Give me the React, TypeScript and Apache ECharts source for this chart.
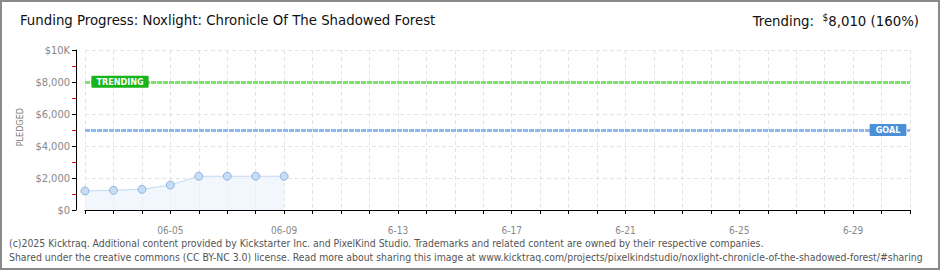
import React, { useEffect, useRef } from "react";
import * as echarts from "echarts";

const categories = [
  "06-02","06-03","06-04","06-05","06-06","06-07","06-08","06-09","06-10","06-11",
  "06-12","6-13","06-14","06-15","06-16","6-17","06-18","06-19","06-20","6-21",
  "06-22","06-23","06-24","6-25","06-26","06-27","06-28","6-29","06-30","07-01",
];
const pledged = [1190, 1230, 1290, 1560, 2110, 2110, 2110, 2110];
const goal = 5000;
const trending = 8010;

const FONT = "'DejaVu Sans Condensed', 'DejaVu Sans', sans-serif";

export default function App() {
  const ref = useRef<HTMLDivElement>(null);
  useEffect(() => {
    document.body.style.margin = "0";
    const chart = echarts.init(ref.current!, undefined, { renderer: "svg" });
    const dash = [5, 1];
    chart.setOption({
      animation: false,
      backgroundColor: "#ffffff",
      grid: { left: 85, right: 30, top: 50, bottom: 60, containLabel: false },
      graphic: [
        { type: "rect", shape: { x: 1, y: 1, width: 938, height: 268 }, style: { fill: "none", stroke: "#8a8a8a", lineWidth: 2 }, silent: true },
        { type: "text", left: 20, top: 12, style: { text: "Funding Progress: Noxlight: Chronicle Of The Shadowed Forest", font: `14.8px ${FONT}`, fill: "#111" } },
        {
          type: "text", right: 21, top: 12,
          style: {
            text: "{a|Trending:  }{s|$}{a|8,010 (160%)}",
            rich: {
              a: { font: `14.8px ${FONT}`, fill: "#111" },
              s: { font: `10px ${FONT}`, fill: "#111", verticalAlign: "top", padding: [0, 0, 6, 0] },
            },
          },
        },
        { type: "text", left: 9, top: 238, style: { text: "(c)2025 Kicktraq. Additional content provided by Kickstarter Inc. and PixelKind Studio. Trademarks and related content are owned by their respective companies.", font: `10.4px ${FONT}`, fill: "#555" } },
        { type: "text", left: 9, top: 252, style: { text: "Shared under the creative commons (CC BY-NC 3.0) license. Read more about sharing this image at www.kicktraq.com/projects/pixelkindstudio/noxlight-chronicle-of-the-shadowed-forest/#sharing", font: `10.4px ${FONT}`, fill: "#555" } },
        { type: "text", left: 15, top: 108, rotation: Math.PI / 2, style: { text: "PLEDGED", font: `9px ${FONT}`, fill: "#777" } },
      ],
      xAxis: {
        type: "category",
        data: categories,
        boundaryGap: false,
        offset: 10,
        axisLine: { lineStyle: { color: "#000", width: 1 } },
        axisTick: { interval: 0, length: 4, lineStyle: { color: "#000" } },
        axisLabel: {
          interval: (i: number) => i >= 3 && (i - 3) % 4 === 0,
          color: "#888", fontFamily: FONT, fontSize: 10, margin: 5,
        },
        splitLine: { show: true, interval: 0, lineStyle: { color: "#e4e4e4", type: [4, 3] } },
      },
      yAxis: {
        type: "value",
        min: 0, max: 10000, interval: 2000,
        offset: 9,
        axisLine: { show: true, lineStyle: { color: "#000" } },
        axisTick: { show: true, length: 4, lineStyle: { color: "#000" } },
        minorTick: { show: true, splitNumber: 2, length: 4, lineStyle: { color: "#e00" } },
        axisLabel: {
          color: "#888", fontFamily: FONT, fontSize: 11, margin: 6,
          formatter: (v: number) => (v === 10000 ? "$10K" : "$" + v.toLocaleString("en-US")),
        },
        splitLine: { show: true, lineStyle: { color: "#e4e4e4", type: [4, 3] } },
      },
      series: [
        {
          type: "line",
          data: pledged,
          symbol: "circle",
          symbolSize: 8,
          itemStyle: { color: "#c6ddf8", borderColor: "#92b2dc", borderWidth: 1 },
          lineStyle: { color: "#c0d8f5", width: 1 },
          areaStyle: { color: "#edf4fc" },
          markLine: {
            silent: true,
            symbol: "none",
            label: { show: false },
            data: [
              { yAxis: trending, lineStyle: { color: "#7fe06a", width: 3, type: dash, opacity: 1 } },
              { yAxis: goal, lineStyle: { color: "#8fb8ec", width: 3, type: dash, opacity: 1 } },
            ],
          },
          markPoint: {
            silent: true,
            symbol: "rect",
            symbolSize: 0,
            data: [
              {
                coord: [0, trending],
                label: {
                  show: true, position: "inside", formatter: "TRENDING", offset: [35, 0],
                  color: "#fff", backgroundColor: "#18b418", padding: [2, 5, 1, 5], borderRadius: 1,
                  fontFamily: FONT, fontSize: 9, fontWeight: "bold",
                },
              },
              {
                coord: [categories.length - 1, goal],
                label: {
                  show: true, position: "inside", formatter: "GOAL", offset: [-22, 0],
                  color: "#fff", backgroundColor: "#4a8fd8", padding: [2, 6, 1, 6], borderRadius: 1,
                  fontFamily: FONT, fontSize: 9, fontWeight: "bold",
                },
              },
            ],
          },
        },
      ],
    });
    return () => chart.dispose();
  }, []);
  return <div ref={ref} style={{ width: 940, height: 270 }} />;
}
